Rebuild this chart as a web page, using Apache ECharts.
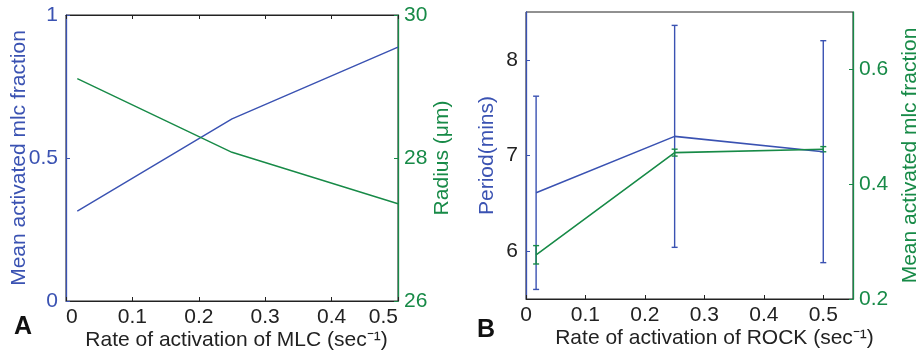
<!DOCTYPE html>
<html>
<head>
<meta charset="utf-8">
<script src="https://cdn.jsdelivr.net/npm/echarts@6/dist/echarts.min.js"></script>
<style>
  html, body { margin: 0; padding: 0; background: #fff; }
  #chart { width: 922px; height: 356px; }
</style>
</head>
<body>
<div id="chart"></div>
<script>
// Panel A: MLC activation rate vs. activated fraction and radius
const mlcRates = [0.017, 0.25, 0.5];
const mlcActivated = [0.314, 0.637, 0.888];
const radiusUm = [29.11, 28.08, 27.36];

// Panel B: ROCK activation rate vs. period and activated fraction (mean ± error)
const rockRates = [0.017, 0.25, 0.5];
const periodMean = [6.61, 7.20, 7.04];
const periodErr = [1.01, 1.16, 1.16];
const rockActivated = [0.277, 0.455, 0.461];
const rockActivatedErr = [0.016, 0.006, 0.0045];

// Tick positions
const xTicksA = [0, 0.1, 0.2, 0.3, 0.4, 0.5];
const xTicksB = [0, 0.1, 0.2, 0.3, 0.4, 0.5];
const fractionTicksA = [0, 0.5, 1];
const radiusTicks = [26, 28, 30];
const periodTicks = [6, 7, 8];
const fractionTicksB = [0.2, 0.4, 0.6];

const BLUE = '#3a52b2';
const GREEN = '#178a47';
const DARK = '#222222';
const FONT = '"Liberation Sans", Arial, Helvetica, sans-serif';
const FS = 21;

function pairs(xs, ys) { return xs.map((x, i) => [x, ys[i]]); }

function errorBarSeries(xAxisIndex, yAxisIndex, xs, mean, err, color) {
  return {
    type: 'custom',
    xAxisIndex, yAxisIndex,
    data: xs.map((x, i) => [x, mean[i] - err[i], mean[i] + err[i]]),
    z: 3,
    renderItem: function (params, api) {
      const lo = api.coord([api.value(0), api.value(1)]);
      const hi = api.coord([api.value(0), api.value(2)]);
      const hw = 3;
      const style = { stroke: color, lineWidth: 1.4, fill: null };
      return {
        type: 'group',
        children: [
          { type: 'line', shape: { x1: lo[0], y1: lo[1], x2: hi[0], y2: hi[1] }, style },
          { type: 'line', shape: { x1: lo[0] - hw, y1: lo[1], x2: lo[0] + hw, y2: lo[1] }, style },
          { type: 'line', shape: { x1: hi[0] - hw, y1: hi[1], x2: hi[0] + hw, y2: hi[1] }, style }
        ]
      };
    }
  };
}

function xAxisCfg(gridIndex, max, ticks, name, namePad, edgeAlign) {
  const label = { color: DARK, fontSize: FS, fontFamily: FONT, margin: 6, customValues: ticks };
  if (edgeAlign) { label.alignMinLabel = 'left'; label.alignMaxLabel = 'right'; }
  return {
    type: 'value', gridIndex, min: 0, max,
    position: 'bottom',
    name, nameLocation: 'middle', nameGap: 29, nameMoveOverlap: false,
    nameTextStyle: { color: DARK, fontSize: FS, fontFamily: FONT, padding: namePad },
    axisLine: { onZero: false, lineStyle: { color: DARK, width: 1 } },
    axisTick: { inside: true, length: 4, lineStyle: { color: DARK }, customValues: ticks },
    axisLabel: label,
    splitLine: { show: false }
  };
}

// Tick marks along the top edge of the left frame
function topAxisCfg(gridIndex, max, ticks) {
  return {
    type: 'value', gridIndex, min: 0, max, position: 'top',
    axisLine: { onZero: false, lineStyle: { color: DARK, width: 1 } },
    axisTick: { inside: true, length: 4, lineStyle: { color: DARK }, customValues: ticks },
    axisLabel: { show: false },
    splitLine: { show: false }
  };
}

function yAxisCfg(gridIndex, position, min, max, ticks, name, nameGap, lineColor, labelColor, nameColor) {
  return {
    type: 'value', gridIndex, position, min, max,
    name, nameLocation: 'middle', nameGap, nameRotate: 90, nameMoveOverlap: false,
    nameTextStyle: { color: nameColor, fontSize: FS, fontFamily: FONT },
    axisLine: { show: true, onZero: false, lineStyle: { color: lineColor, width: 1.3 } },
    axisTick: { show: true, inside: true, length: 4, lineStyle: { color: lineColor }, customValues: ticks },
    axisLabel: { color: labelColor, fontSize: FS, fontFamily: FONT, margin: position === 'left' ? 8 : 6, customValues: ticks },
    splitLine: { show: false }
  };
}

const chart = echarts.init(document.getElementById('chart'), null, { renderer: 'canvas' });

chart.setOption({
  animation: false,
  backgroundColor: '#ffffff',
  grid: [
    { left: 66, right: 524, top: 15, bottom: 54, show: true, borderColor: DARK, borderWidth: 1, backgroundColor: 'transparent' },
    { left: 526, right: 69, top: 12, bottom: 57, show: true, borderColor: DARK, borderWidth: 1, backgroundColor: 'transparent' }
  ],
  xAxis: [
    xAxisCfg(0, 0.5, xTicksA, 'Rate of activation of MLC (sec\u207B\u00B9)', [0, 0, 0, 9], true),
    topAxisCfg(0, 0.5, xTicksA),
    xAxisCfg(1, 0.55, xTicksB, 'Rate of activation of ROCK (sec\u207B\u00B9)', [0, 0, 0, 50], false)
  ],
  yAxis: [
    yAxisCfg(0, 'left', 0, 1, fractionTicksA, 'Mean activated mlc fraction', 36, BLUE, BLUE, BLUE),
    yAxisCfg(0, 'right', 26, 30, radiusTicks, 'Radius (\u03BCm)', 34, GREEN, GREEN, GREEN),
    yAxisCfg(1, 'left', 5.5, 8.5, periodTicks, 'Period(mins)', 28, BLUE, DARK, BLUE),
    yAxisCfg(1, 'right', 0.2, 0.7, fractionTicksB, 'Mean activated mlc fraction', 47, GREEN, GREEN, GREEN)
  ],
  series: [
    {
      type: 'line', xAxisIndex: 0, yAxisIndex: 0,
      data: pairs(mlcRates, mlcActivated),
      showSymbol: false, lineStyle: { color: BLUE, width: 1.4 }, z: 4
    },
    {
      type: 'line', xAxisIndex: 0, yAxisIndex: 1,
      data: pairs(mlcRates, radiusUm),
      showSymbol: false, lineStyle: { color: GREEN, width: 1.4 }, z: 4
    },
    {
      type: 'line', xAxisIndex: 2, yAxisIndex: 2,
      data: pairs(rockRates, periodMean),
      showSymbol: false, lineStyle: { color: BLUE, width: 1.6 }, z: 4
    },
    errorBarSeries(2, 2, rockRates, periodMean, periodErr, BLUE),
    {
      type: 'line', xAxisIndex: 2, yAxisIndex: 3,
      data: pairs(rockRates, rockActivated),
      showSymbol: false, lineStyle: { color: GREEN, width: 1.6 }, z: 5
    },
    errorBarSeries(2, 3, rockRates, rockActivated, rockActivatedErr, GREEN)
  ],
  graphic: [
    { type: 'text', left: 14, top: 315, style: { text: 'A', font: 'bold 25px ' + FONT, fill: '#111' } },
    { type: 'text', left: 477, top: 318, style: { text: 'B', font: 'bold 25px ' + FONT, fill: '#111' } }
  ]
});
</script>
</body>
</html>
